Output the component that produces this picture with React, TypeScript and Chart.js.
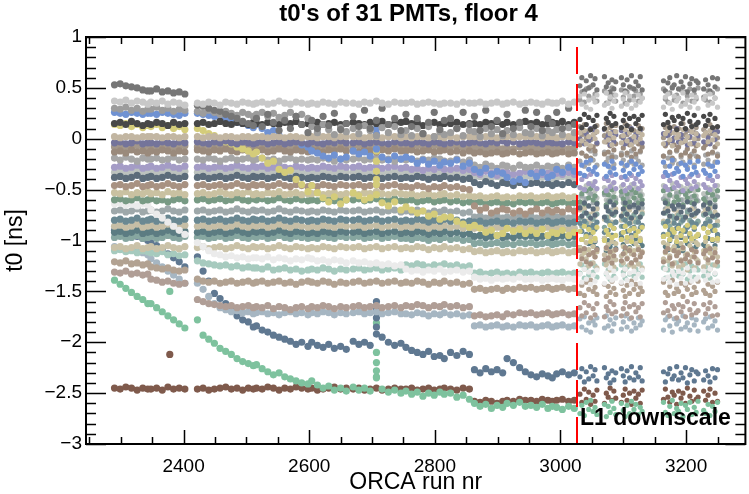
import { useEffect, useRef } from "react";
import { Chart, registerables } from "chart.js";

Chart.register(...registerables);

// ---- axis / annotation constants ----
const titleText = "t0's of 31 PMTs, floor 4";
const xTitle = "ORCA run nr";
const yTitle = "t0 [ns]";
const l1Label = "L1 downscale";
const l1Run = 3027;
const xMin = 2244.6;
const xMax = 3294.4;
const yMin = -3;
const yMax = 1;
const xMajorTicks = [2400, 2600, 2800, 3000, 3200];
const xTickLabels = ["2400", "2600", "2800", "3000", "3200"];
const yMajorTicks = [1, 0.5, 0, -0.5, -1, -1.5, -2, -2.5, -3];
const yTickLabels = ["1", "0.5", "0", "\u22120.5", "\u22121", "\u22121.5", "\u22122", "\u22122.5", "\u22123"];

// ---- run numbers, grouped by data-taking period ----
const runClusters: number[][] = [
  [2290, 2299, 2308, 2317, 2326, 2335, 2343],
  [2348, 2357, 2366, 2375, 2384, 2393, 2402],
  [2422, 2431, 2440, 2449, 2458, 2467, 2476, 2485, 2494, 2503, 2511],
  [2516, 2525, 2534, 2543, 2552, 2561, 2570, 2579, 2588, 2598],
  [2604, 2613, 2622, 2631, 2640, 2650, 2659],
  [2670, 2679, 2688, 2697, 2707, 2716, 2726, 2736, 2746],
  [2754, 2763, 2772, 2781, 2790, 2799, 2808, 2815],
  [2825, 2835, 2845, 2855],
  [2863, 2872, 2881, 2890, 2899, 2908],
  [2915, 2925, 2935, 2944],
  [2953, 2962, 2971, 2980, 2987],
  [2994, 3003, 3013, 3022],
  [3031, 3034, 3038, 3041, 3045, 3048, 3052, 3055, 3058],
  [3070, 3073, 3076, 3079, 3082, 3085, 3088],
  [3097, 3100, 3103, 3106, 3110, 3113, 3117, 3120, 3124, 3127, 3130],
  [3164, 3167, 3171, 3174, 3178, 3181, 3185, 3188, 3192, 3195, 3199, 3202, 3206, 3209, 3213, 3216, 3219],
  [3228, 3231, 3235, 3238, 3242, 3246, 3250],
];

// ---- t0 values [ns] per PMT, same grouping as runClusters ----
const pmt01 = [
  [.37,.36,.38,.35,.37,.36,.34],[.36,.35,.37,.34,.36,.35,.33],
  [.35,.34,.36,.35,.33,.36,.35,.34,.36,.35,.34],[.35,.36,.34,.35,.37,.35,.34,.36,.35,.34],
  [.35,.34,.36,.35,.34,.36,.35],[.35,.34,.36,.35,.37,.35,.34,.36,.35],
  [.35,.36,.34,.35,.36,.35,.34,.35],[.35,.34,.36,.35],[.35,.36,.34,.35,.36,.34],
  [.35,.36,.34,.35],[.36,.35,.34,.36,.35],[.35,.37,.34,.36],
  [.42,.34,.44,.31,.38,.29,.40,.36,.43],[.33,.45,.35,.41,.30,.37,.43],
  [.32,.39,.45,.34,.42,.30,.38,.33,.43,.36,.40],
  [.31,.41,.44,.35,.29,.42,.37,.40,.32,.45,.34,.38,.31,.43,.36,.41,.30],[.39,.42,.33,.44,.35,.40,.31],
];
const pmt02 = [
  [.53,.54,.52,.51,.50,.48,.47],[.47,.49,.46,.47,.45,.46,.44],
  [.33,.32,.30,.28,.27,.24,.22,.20,.17,.15,.13],[.20,.12,.24,.16,.08,.18,.10,.22,.14,.06],
  [.18,.10,.22,.13,.25,.09,.15],[.22,.12,.28,.10,.18,.30,.14,.20,.08],
  [.24,.12,.20,.05,.16,.26,.09,.18],[.20,.10,.26,.14],[.22,.08,.28,.12,.18,.05],
  [.24,.10,.16,.28],[.12,.26,.08,.20,.15],[.26,.10,.30,.14],
  [.52,.60,.47,.57,.50,.62,.53,.59,.48],[.61,.51,.55,.46,.58,.49,.56],
  [.60,.53,.47,.58,.51,.62,.49,.56,.52,.61,.48],
  [.57,.47,.55,.60,.50,.53,.62,.49,.56,.51,.61,.46,.54,.59,.48,.57,.55],[.49,.58,.53,.47,.60,.51,.59],
];
const pmt03 = [
  [.30,.29,.31,.28,.30,.27,.29],[.29,.31,.28,.30,.27,.29,.28],
  [.27,.25,.28,.26,.24,.27,.25,.23,.26,.24,.22],[.24,.26,.22,.25,.21,.23,.26,.22,.24,.20],
  [.12,.06,.14,.09,.04,.11,.07],[.10,.05,.13,.08,.03,.11,.06,.12,.04],
  [.08,.03,.10,.05,.12,.02,.07,.04],[.06,.10,.03,.08],[.07,.02,.10,.05,.09,.03],
  [.08,.04,.11,.06],[.05,.10,.03,.08,.06],[.09,.04,.11,.06],
  [.38,.46,.36,.49,.42,.51,.40,.44,.37],[.47,.35,.45,.39,.50,.43,.37],
  [.48,.41,.35,.46,.38,.50,.42,.47,.37,.44,.40],
  [.49,.39,.36,.45,.51,.38,.43,.40,.48,.35,.46,.42,.49,.37,.44,.39,.50],[.41,.38,.47,.36,.45,.40,.49],
];
const pmt04 = [
  [.15,.16,.14,.17,.15,.13,.15],[.14,.16,.15,.13,.16,.14,.15],
  [.15,.16,.14,.15,.17,.15,.14,.16,.15,.14,.16],[.15,.14,.16,.15,.14,.16,.15,.17,.14,.15],
  [.15,.16,.14,.15,.16,.14,.15],[.16,.15,.14,.16,.15,.17,.14,.15,.16],
  [.17,.15,.16,.13,.15,.16,.14,.15],[.15,.16,.14,.15],[.15,.14,.16,.15,.17,.14],
  [.16,.14,.15,.17],[.15,.16,.14,.15,.16],[.15,.17,.14,.16],
  [.19,.11,.24,.14,.21,.09,.18,.12,.23],[.10,.20,.16,.25,.13,.22,.15],
  [.11,.18,.24,.13,.20,.09,.22,.15,.19,.10,.23],
  [.14,.24,.16,.11,.21,.18,.09,.22,.15,.20,.10,.25,.17,.12,.23,.14,.16],[.22,.13,.18,.24,.11,.20,.12],
];
const pmt05 = [
  [.02,.01,.02,.02,.01,.02,.02],[.02,.02,.01,.02,.02,.01,.02],
  [.02,.01,.02,.02,.01,.02,.02,.01,.02,.02,.01],[.02,.02,.01,.02,.02,.01,.02,.02,.01,.02],
  [.02,.01,.02,.02,.01,.02,.02],[.02,.02,.01,.02,.02,.01,.02,.02,.01],
  [.02,.01,.02,.02,.01,.02,.02,.01],[.02,.01,.02,.02],[.02,.01,.02,.02,.01,.02],
  [.02,.01,.02,.02],[.02,.02,.01,.02,.02],[.01,.02,.02,.01],
  [.06,-.02,.08,-.05,.02,-.07,.04,.00,.07],[-.03,.09,-.01,.05,-.06,.01,.07],
  [-.04,.03,.09,-.02,.06,-.06,.02,-.03,.07,.00,.04],
  [-.05,.05,.08,-.01,-.07,.06,.01,.04,-.04,.09,-.02,.02,-.05,.07,.00,.05,-.06],[.03,.06,-.03,.08,-.01,.04,-.05],
];
const pmt06 = [
  [-.04,-.03,-.05,-.04,-.02,-.05,-.04],[-.04,-.05,-.03,-.04,-.05,-.03,-.04],
  [-.03,-.04,-.05,-.03,-.04,-.02,-.04,-.05,-.03,-.04,-.05],[-.04,-.03,-.05,-.04,-.03,-.05,-.04,-.03,-.04,-.05],
  [-.03,-.04,-.05,-.03,-.04,-.02,-.04],[-.04,-.03,-.05,-.04,-.03,-.04,-.05,-.03,-.04],
  [-.04,-.05,-.03,-.04,-.05,-.03,-.04,-.05],[-.04,-.03,-.05,-.04],[-.03,-.04,-.05,-.03,-.04,-.02],
  [-.04,-.03,-.05,-.04],[-.03,-.04,-.05,-.03,-.04],[-.04,-.05,-.03,-.04],
  [.00,.08,-.05,.05,-.02,.10,.01,.07,-.04],[.09,-.01,.03,-.06,.06,-.03,.04],
  [.08,.01,-.05,.06,-.01,.10,-.03,.04,.00,.09,-.04],
  [.05,-.05,.03,.08,-.02,.01,.10,-.03,.04,-.01,.09,-.06,.02,.07,-.04,.05,.03],[-.03,.06,.01,-.05,.08,-.01,.07],
];
const pmt07 = [
  [.26,.25,.24,.26,.25,.24,.25],[.25,.24,.26,.25,.24,.23,.25],
  [.25,.24,.23,.22,.21,.19,.18,.16,.15,.13,.11],[.14,.10,.06,.08,.03,.00,-.03,-.02,-.06,-.08],
  [-.12,-.14,-.17,-.19,-.16,-.20,-.18],[-.12,-.15,-.13,-.17,-.10,-.18,-.21,-.17,-.20],
  [-.18,-.20,-.24,-.21,-.25,-.22,-.26,-.23],[-.24,-.21,-.27,-.24],[-.30,-.33,-.29,-.35,-.32,-.34],
  [-.38,-.42,-.40,-.43],[-.34,-.37,-.33,-.38,-.36],[-.30,-.33,-.28,-.32],
  [-.34,-.26,-.36,-.23,-.30,-.21,-.32,-.28,-.35],[-.25,-.37,-.27,-.33,-.22,-.29,-.35],
  [-.24,-.31,-.37,-.26,-.34,-.22,-.30,-.25,-.35,-.28,-.32],
  [-.23,-.33,-.36,-.27,-.21,-.34,-.29,-.32,-.24,-.37,-.26,-.30,-.23,-.35,-.28,-.33,-.22],[-.31,-.34,-.25,-.36,-.27,-.32,-.23],
];
const pmt08 = [
  [.14,.13,.15,.12,.14,.11,.13],[.12,.14,.11,.13,.10,.12,.09],
  [.10,.08,.05,.03,.00,-.03,-.05,-.08,-.10,-.12,-.15],[-.13,-.19,-.24,-.22,-.30,-.33,-.31,-.40,-.45,-.52],
  [-.46,-.53,-.58,-.62,-.57,-.64,-.60],[-.53,-.56,-.60,-.58,-.40,-.63,-.66,-.62,-.70],
  [-.67,-.70,-.73,-.71,-.76,-.74,-.79,-.77],[-.77,-.81,-.84,-.87],[-.85,-.88,-.92,-.90,-.95,-.93],
  [-.88,-.91,-.89,-.93],[-.90,-.93,-.89,-.95,-.92],[-.93,-.90,-.95,-.92],
  [-.91,-.99,-.86,-.96,-.89,-1.01,-.92,-.98,-.87],[-1.00,-.90,-.94,-.85,-.97,-.88,-.95],
  [-.99,-.92,-.86,-.97,-.90,-1.01,-.88,-.95,-.91,-1.00,-.87],
  [-.96,-.86,-.94,-.99,-.89,-.92,-1.01,-.88,-.95,-.90,-1.00,-.85,-.93,-.98,-.87,-.96,-.94],[-.88,-.97,-.92,-.86,-.99,-.90,-.98],
];
const pmt09 = [
  [-.13,-.12,-.14,-.11,-.13,-.12,-.14],[-.12,-.13,-.11,-.12,-.14,-.12,-.13],
  [-.11,-.12,-.13,-.11,-.12,-.10,-.12,-.13,-.11,-.12,-.13],[-.12,-.11,-.13,-.12,-.10,-.12,-.13,-.11,-.12,-.13],
  [-.11,-.12,-.13,-.11,-.12,-.10,-.12],[-.12,-.13,-.11,-.12,-.13,-.11,-.12,-.10,-.12],
  [-.12,-.11,-.13,-.12,-.11,-.13,-.12,-.11],[-.13,-.12,-.14,-.12],[-.14,-.13,-.15,-.14,-.13,-.15],
  [-.14,-.13,-.15,-.14],[-.13,-.15,-.14,-.13,-.15],[-.14,-.13,-.15,-.14],
  [-.06,-.14,-.04,-.17,-.10,-.19,-.08,-.12,-.05],[-.15,-.03,-.13,-.07,-.18,-.11,-.05],
  [-.16,-.09,-.03,-.14,-.06,-.18,-.10,-.15,-.05,-.12,-.08],
  [-.17,-.07,-.04,-.13,-.19,-.06,-.11,-.08,-.16,-.03,-.14,-.10,-.17,-.05,-.12,-.07,-.18],[-.09,-.06,-.15,-.04,-.13,-.08,-.17],
];
const pmt10 = [
  [-.19,-.21,-.18,-.20,-.22,-.19,-.20],[-.20,-.19,-.21,-.20,-.18,-.21,-.20],
  [-.20,-.21,-.19,-.20,-.22,-.20,-.19,-.21,-.20,-.19,-.21],[-.20,-.19,-.21,-.20,-.22,-.20,-.19,-.21,-.20,-.21],
  [-.20,-.21,-.19,-.20,-.22,-.20,-.21],[-.20,-.19,-.21,-.20,-.19,-.21,-.20,-.22,-.20],
  [-.21,-.20,-.22,-.20,-.21,-.19,-.20,-.22],[-.22,-.20,-.23,-.21],[-.26,-.28,-.25,-.27,-.29,-.26],
  [-.27,-.29,-.26,-.28],[-.28,-.26,-.29,-.27,-.28],[-.27,-.29,-.26,-.28],
  [-.22,-.14,-.27,-.17,-.24,-.12,-.21,-.15,-.26],[-.13,-.23,-.19,-.28,-.16,-.25,-.18],
  [-.14,-.21,-.27,-.16,-.23,-.12,-.25,-.18,-.22,-.13,-.26],
  [-.17,-.27,-.19,-.14,-.24,-.21,-.12,-.25,-.18,-.23,-.13,-.28,-.20,-.15,-.26,-.17,-.19],[-.25,-.16,-.21,-.27,-.14,-.23,-.15],
];
const pmt11 = [
  [-.28,-.27,-.29,-.28,-.26,-.29,-.28],[-.27,-.29,-.28,-.26,-.28,-.29,-.27],
  [-.28,-.27,-.29,-.28,-.27,-.29,-.28,-.26,-.28,-.29,-.27],[-.28,-.27,-.29,-.28,-.26,-.28,-.29,-.27,-.28,-.29],
  [-.28,-.29,-.27,-.28,-.29,-.27,-.28],[-.28,-.27,-.29,-.28,-.27,-.29,-.28,-.27,-.29],
  [-.28,-.30,-.29,-.31,-.29,-.30,-.28,-.30],[-.30,-.29,-.31,-.30],[-.33,-.35,-.32,-.34,-.36,-.33],
  [-.33,-.35,-.34,-.32],[-.34,-.33,-.35,-.34,-.33],[-.34,-.35,-.33,-.35],
  [-.48,-.40,-.50,-.37,-.44,-.35,-.46,-.42,-.49],[-.39,-.51,-.41,-.47,-.36,-.43,-.49],
  [-.38,-.45,-.51,-.40,-.48,-.36,-.44,-.39,-.49,-.42,-.46],
  [-.37,-.47,-.50,-.41,-.35,-.48,-.43,-.46,-.38,-.51,-.40,-.44,-.37,-.49,-.42,-.47,-.36],[-.45,-.48,-.39,-.50,-.41,-.46,-.37],
];
const pmt12 = [
  [-.38,-.37,-.39,-.38,-.36,-.39,-.38],[-.37,-.39,-.38,-.36,-.38,-.39,-.37],
  [-.38,-.37,-.39,-.38,-.37,-.39,-.38,-.36,-.38,-.39,-.37],[-.38,-.37,-.39,-.38,-.36,-.38,-.39,-.37,-.38,-.39],
  [-.38,-.39,-.37,-.38,-.39,-.37,-.38],[-.38,-.37,-.39,-.38,-.37,-.39,-.38,-.37,-.39],
  [-.38,-.39,-.37,-.38,-.40,-.38,-.39,-.37],[-.39,-.38,-.40,-.39],[-.43,-.45,-.42,-.44,-.46,-.43],
  [-.44,-.46,-.43,-.45],[-.44,-.43,-.45,-.44,-.46],[-.44,-.45,-.43,-.45],
  [-.68,-.76,-.63,-.73,-.66,-.78,-.69,-.75,-.64],[-.77,-.67,-.71,-.62,-.74,-.65,-.72],
  [-.76,-.69,-.63,-.74,-.67,-.78,-.65,-.72,-.68,-.77,-.64],
  [-.73,-.63,-.71,-.76,-.66,-.69,-.78,-.65,-.72,-.67,-.77,-.62,-.70,-.75,-.64,-.73,-.71],[-.65,-.74,-.69,-.63,-.76,-.67,-.75],
];
const pmt13 = [
  [-.46,-.45,-.47,-.46,-.44,-.47,-.46],[-.45,-.47,-.46,-.44,-.46,-.47,-.45],
  [-.46,-.45,-.47,-.46,-.45,-.47,-.46,-.44,-.46,-.47,-.45],[-.46,-.45,-.47,-.46,-.44,-.46,-.47,-.45,-.46,-.47],
  [-.46,-.47,-.45,-.46,-.47,-.45,-.46],[-.46,-.45,-.47,-.46,-.45,-.47,-.46,-.45,-.47],
  [-.47,-.48,-.46,-.47,-.49,-.47,-.48,-.46],[-.48,-.47,-.49,-.50],[-.66,-.70,-.68,-.73,-.71,-.69],
  [-.70,-.73,-.71,-.74],[-.71,-.69,-.73,-.70,-.72],[-.70,-.72,-.69,-.71],
  [-1.10,-1.18,-1.08,-1.21,-1.14,-1.23,-1.12,-1.16,-1.09],[-1.19,-1.07,-1.17,-1.11,-1.22,-1.15,-1.09],
  [-1.20,-1.13,-1.07,-1.18,-1.10,-1.22,-1.14,-1.19,-1.09,-1.16,-1.12],
  [-1.21,-1.11,-1.08,-1.17,-1.23,-1.10,-1.15,-1.12,-1.20,-1.07,-1.18,-1.14,-1.21,-1.09,-1.16,-1.11,-1.22],[-1.13,-1.10,-1.19,-1.08,-1.17,-1.12,-1.21],
];
const pmt14 = [
  [-.53,-.54,-.52,-.55,-.53,-.54,-.52],[-.54,-.53,-.55,-.52,-.54,-.53,-.55],
  [-.54,-.53,-.55,-.54,-.52,-.54,-.55,-.53,-.54,-.52,-.55],[-.54,-.55,-.53,-.54,-.52,-.55,-.54,-.53,-.55,-.54],
  [-.54,-.53,-.55,-.54,-.53,-.55,-.54],[-.54,-.55,-.53,-.54,-.52,-.54,-.55,-.53,-.54],
  [-.55,-.54,-.56,-.55,-.54,-.56,-.55,-.54],[-.56,-.55,-.57,-.56],[-.57,-.56,-.58,-.57,-.56,-.58],
  [-.57,-.58,-.56,-.57],[-.56,-.58,-.57,-.56,-.58],[-.57,-.56,-.58,-.57],
  [-1.07,-.99,-1.12,-1.02,-1.09,-.97,-1.06,-1.00,-1.11],[-.98,-1.08,-1.04,-1.13,-1.01,-1.10,-1.03],
  [-.99,-1.06,-1.12,-1.01,-1.08,-.97,-1.10,-1.03,-1.07,-.98,-1.11],
  [-1.02,-1.12,-1.04,-.99,-1.09,-1.06,-.97,-1.10,-1.03,-1.08,-.98,-1.13,-1.05,-1.00,-1.11,-1.02,-1.04],[-1.10,-1.01,-1.06,-1.12,-.99,-1.08,-1.00],
];
const pmt15 = [
  [-.60,-.59,-.61,-.60,-.58,-.61,-.60],[-.59,-.61,-.60,-.62,-.60,-.59,-.61],
  [-.60,-.59,-.61,-.60,-.59,-.61,-.60,-.58,-.60,-.61,-.59],[-.60,-.59,-.61,-.60,-.58,-.60,-.61,-.59,-.60,-.61],
  [-.60,-.61,-.59,-.60,-.61,-.59,-.60],[-.60,-.59,-.61,-.60,-.59,-.61,-.60,-.59,-.61],
  [-.61,-.60,-.62,-.61,-.60,-.62,-.61,-.60],[-.62,-.61,-.63,-.62],[-.63,-.62,-.64,-.63,-.62,-.64],
  [-.63,-.64,-.62,-.63],[-.62,-.64,-.63,-.62,-.64],[-.63,-.62,-.64,-.63],
  [-.62,-.54,-.64,-.51,-.58,-.49,-.60,-.56,-.63],[-.53,-.65,-.55,-.61,-.50,-.57,-.63],
  [-.52,-.59,-.65,-.54,-.62,-.50,-.58,-.53,-.63,-.56,-.60],
  [-.51,-.61,-.64,-.55,-.49,-.62,-.57,-.60,-.52,-.65,-.54,-.58,-.51,-.63,-.56,-.61,-.50],[-.59,-.62,-.53,-.64,-.55,-.60,-.51],
];
const pmt16 = [
  [-.64,-.63,-.65,-.64,-.66,-.64,-.65],[-.70,-.74,-.78,-.82,-.86,-.90,-.94],
  [-1.02,-1.06,-1.10,-1.13,-1.14,-1.16,-1.15,-1.17,-1.16,-1.18,-1.17],[-1.17,-1.18,-1.16,-1.19,-1.17,-1.18,-1.20,-1.18,-1.19,-1.17],
  [-1.18,-1.20,-1.19,-1.21,-1.19,-1.20,-1.22],[-1.20,-1.22,-1.21,-1.23,-1.22,-1.24,-1.23,-1.25,-1.24],
  [-1.28,-1.30,-1.29,-1.31,-1.29,-1.30,-1.28,-1.31],[-1.30,-1.29,-1.31,-1.30],[-1.36,-1.38,-1.37,-1.39,-1.37,-1.38],
  [-1.37,-1.38,-1.36,-1.38],[-1.38,-1.37,-1.39,-1.38,-1.37],[-1.38,-1.39,-1.37,-1.38],
  [-1.33,-1.41,-1.28,-1.38,-1.31,-1.43,-1.34,-1.40,-1.29],[-1.42,-1.32,-1.36,-1.27,-1.39,-1.30,-1.37],
  [-1.41,-1.34,-1.28,-1.39,-1.32,-1.43,-1.30,-1.37,-1.33,-1.42,-1.29],
  [-1.38,-1.28,-1.36,-1.41,-1.31,-1.34,-1.43,-1.30,-1.37,-1.32,-1.42,-1.27,-1.35,-1.40,-1.29,-1.38,-1.36],[-1.30,-1.39,-1.34,-1.28,-1.41,-1.32,-1.40],
];
const pmt17 = [
  [-.80,-.79,-.81,-.80,-.78,-.81,-.80],[-.79,-.81,-.80,-.78,-.80,-.81,-.79],
  [-.80,-.79,-.81,-.80,-.79,-.81,-.80,-.78,-.80,-.81,-.79],[-.80,-.79,-.81,-.80,-.78,-.80,-.81,-.79,-.80,-.81],
  [-.80,-.81,-.79,-.80,-.81,-.79,-.80],[-.80,-.79,-.81,-.80,-.79,-.81,-.80,-.79,-.81],
  [-.80,-.81,-.79,-.80,-.82,-.80,-.81,-.79],[-.81,-.80,-.82,-.81],[-.82,-.81,-.83,-.82,-.81,-.83],
  [-.82,-.83,-.81,-.82],[-.81,-.83,-.82,-.81,-.83],[-.82,-.81,-.83,-.82],
  [-.83,-.91,-.81,-.94,-.87,-.96,-.85,-.89,-.82],[-.92,-.80,-.90,-.84,-.95,-.88,-.82],
  [-.93,-.86,-.80,-.91,-.83,-.95,-.87,-.92,-.82,-.89,-.85],
  [-.94,-.84,-.81,-.90,-.96,-.83,-.88,-.85,-.93,-.80,-.91,-.87,-.94,-.82,-.89,-.84,-.95],[-.86,-.83,-.92,-.81,-.90,-.85,-.94],
];
const pmt18 = [
  [-.86,-.85,-.87,-.86,-.84,-.87,-.86],[-.85,-.87,-.86,-.84,-.86,-.87,-.85],
  [-.86,-.85,-.87,-.86,-.85,-.87,-.86,-.84,-.86,-.87,-.85],[-.86,-.85,-.87,-.86,-.84,-.86,-.87,-.85,-.86,-.87],
  [-.86,-.87,-.85,-.86,-.87,-.85,-.86],[-.86,-.85,-.87,-.86,-.85,-.87,-.86,-.85,-.87],
  [-.86,-.87,-.85,-.86,-.88,-.86,-.87,-.85],[-.87,-.86,-.88,-.87],[-.88,-.87,-.89,-.88,-.87,-.89],
  [-.88,-.89,-.87,-.88],[-.87,-.89,-.88,-.87,-.89],[-.88,-.87,-.89,-.88],
  [-1.23,-1.15,-1.28,-1.18,-1.25,-1.13,-1.22,-1.16,-1.27],[-1.14,-1.24,-1.20,-1.29,-1.17,-1.26,-1.19],
  [-1.15,-1.22,-1.28,-1.17,-1.24,-1.13,-1.26,-1.19,-1.23,-1.14,-1.27],
  [-1.18,-1.28,-1.20,-1.15,-1.25,-1.22,-1.13,-1.26,-1.19,-1.24,-1.14,-1.29,-1.21,-1.16,-1.27,-1.18,-1.20],[-1.26,-1.17,-1.22,-1.28,-1.15,-1.24,-1.16],
];
const pmt19 = [
  [-.92,-.91,-.93,-.92,-.90,-.93,-.92],[-.91,-.93,-.92,-.90,-.92,-.93,-.91],
  [-.92,-.91,-.93,-.92,-.91,-.93,-.92,-.90,-.92,-.93,-.91],[-.92,-.91,-.93,-.92,-.90,-.92,-.93,-.91,-.92,-.93],
  [-.92,-.93,-.91,-.92,-.93,-.91,-.92],[-.92,-.91,-.93,-.92,-.91,-.93,-.92,-.91,-.93],
  [-.92,-.93,-.91,-.92,-.94,-.92,-.93,-.91],[-.93,-.92,-.94,-.93],[-.96,-.95,-.97,-.96,-.95,-.97],
  [-.96,-.97,-.95,-.96],[-.95,-.97,-.96,-.95,-.97],[-.96,-.95,-.97,-.96],
  [-1.07,-.99,-1.09,-.96,-1.03,-.94,-1.05,-1.01,-1.08],[-.98,-1.10,-1.00,-1.06,-.95,-1.02,-1.08],
  [-.97,-1.04,-1.10,-.99,-1.07,-.95,-1.03,-.98,-1.08,-1.01,-1.05],
  [-.96,-1.06,-1.09,-1.00,-.94,-1.07,-1.02,-1.05,-.97,-1.10,-.99,-1.03,-.96,-1.08,-1.01,-1.06,-.95],[-1.04,-1.07,-.98,-1.09,-1.00,-1.05,-.96],
];
const pmt20 = [
  [-.97,-.96,-.98,-.97,-.95,-.98,-.97],[-.96,-.98,-.97,-.95,-.97,-.98,-.96],
  [-.97,-.96,-.98,-.97,-.96,-.98,-.97,-.95,-.97,-.98,-.96],[-.97,-.96,-.98,-.97,-.95,-.97,-.98,-.96,-.97,-.98],
  [-.97,-.98,-.96,-.97,-.98,-.96,-.97],[-.97,-.96,-.98,-.97,-.96,-.98,-.97,-.96,-.98],
  [-.98,-.99,-.97,-.98,-1.00,-.98,-.99,-.97],[-.99,-.98,-1.00,-.99],[-1.03,-1.02,-1.04,-1.03,-1.02,-1.04],
  [-1.03,-1.04,-1.02,-1.03],[-1.02,-1.04,-1.03,-1.02,-1.04],[-1.03,-1.02,-1.04,-1.03],
  [-.78,-.86,-.73,-.83,-.76,-.88,-.79,-.85,-.74],[-.87,-.77,-.81,-.72,-.84,-.75,-.82],
  [-.86,-.79,-.73,-.84,-.77,-.88,-.75,-.82,-.78,-.87,-.74],
  [-.83,-.73,-.81,-.86,-.76,-.79,-.88,-.75,-.82,-.77,-.87,-.72,-.80,-.85,-.74,-.83,-.81],[-.75,-.84,-.79,-.73,-.86,-.77,-.85],
];
const pmt21 = [
  [-1.07,-1.06,-1.08,-1.07,-1.05,-1.08,-1.07],[-1.06,-1.08,-1.07,-1.05,-1.07,-1.08,-1.06],
  [-1.07,-1.06,-1.08,-1.07,-1.06,-1.08,-1.07,-1.05,-1.07,-1.08,-1.06],[-1.07,-1.06,-1.08,-1.07,-1.05,-1.07,-1.08,-1.06,-1.07,-1.08],
  [-1.07,-1.08,-1.06,-1.07,-1.08,-1.06,-1.07],[-1.07,-1.06,-1.08,-1.07,-1.06,-1.08,-1.07,-1.06,-1.08],
  [-1.07,-1.08,-1.06,-1.07,-1.09,-1.07,-1.08,-1.06],[-1.08,-1.07,-1.09,-1.08],[-1.11,-1.10,-1.12,-1.11,-1.10,-1.12],
  [-1.11,-1.12,-1.10,-1.11],[-1.10,-1.12,-1.11,-1.10,-1.12],[-1.11,-1.10,-1.12,-1.11],
  [-.70,-.78,-.68,-.81,-.74,-.83,-.72,-.76,-.69],[-.79,-.67,-.77,-.71,-.82,-.75,-.69],
  [-.80,-.73,-.67,-.78,-.70,-.82,-.74,-.79,-.69,-.76,-.72],
  [-.81,-.71,-.68,-.77,-.83,-.70,-.75,-.72,-.80,-.67,-.78,-.74,-.81,-.69,-.76,-.71,-.82],[-.73,-.70,-.79,-.68,-.77,-.72,-.81],
];
const pmt22 = [
  [-1.10,-1.09,-1.11,-1.10,-1.12,-1.10,-1.11],[-1.12,-1.13,-1.11,-1.14,-1.13,-1.15,-1.14],
  [-1.20,-1.22,-1.23,-1.24,-1.25,-1.24,-1.26,-1.25,-1.27,-1.26,-1.27],[-1.27,-1.28,-1.26,-1.29,-1.28,-1.27,-1.29,-1.28,-1.30,-1.29],
  [-1.28,-1.29,-1.27,-1.28,-1.30,-1.28,-1.29],[-1.28,-1.27,-1.29,-1.28,-1.27,-1.29,-1.28,-1.27,-1.29],
  [-1.24,-1.25,-1.23,-1.24,-1.26,-1.24,-1.25,-1.23],[-1.25,-1.24,-1.26,-1.25],[-1.32,-1.31,-1.33,-1.32,-1.31,-1.33],
  [-1.32,-1.33,-1.31,-1.32],[-1.31,-1.33,-1.32,-1.31,-1.33],[-1.32,-1.31,-1.33,-1.32],
  [-1.32,-1.24,-1.37,-1.27,-1.34,-1.22,-1.31,-1.25,-1.36],[-1.23,-1.33,-1.29,-1.38,-1.26,-1.35,-1.28],
  [-1.24,-1.31,-1.37,-1.26,-1.33,-1.22,-1.35,-1.28,-1.32,-1.23,-1.36],
  [-1.27,-1.37,-1.29,-1.24,-1.34,-1.31,-1.22,-1.35,-1.28,-1.33,-1.23,-1.38,-1.30,-1.25,-1.36,-1.27,-1.29],[-1.35,-1.26,-1.31,-1.37,-1.24,-1.33,-1.25],
];
const pmt23 = [
  [-1.21,-1.22,-1.20,-1.23,-1.22,-1.24,-1.23],[-1.26,-1.27,-1.28,-1.27,-1.29,-1.30,-1.29],
  [-1.38,-1.40,-1.41,-1.40,-1.42,-1.41,-1.40,-1.42,-1.41,-1.40,-1.42],[-1.41,-1.40,-1.42,-1.41,-1.40,-1.42,-1.41,-1.43,-1.41,-1.40],
  [-1.41,-1.42,-1.40,-1.41,-1.43,-1.41,-1.42],[-1.41,-1.40,-1.42,-1.41,-1.40,-1.42,-1.41,-1.40,-1.42],
  [-1.41,-1.42,-1.40,-1.41,-1.43,-1.41,-1.42,-1.40],[-1.42,-1.41,-1.43,-1.42],[-1.48,-1.47,-1.49,-1.48,-1.47,-1.49],
  [-1.47,-1.48,-1.46,-1.47],[-1.46,-1.48,-1.47,-1.46,-1.48],[-1.47,-1.46,-1.48,-1.47],
  [-1.52,-1.44,-1.54,-1.41,-1.48,-1.39,-1.50,-1.46,-1.53],[-1.43,-1.55,-1.45,-1.51,-1.40,-1.47,-1.53],
  [-1.42,-1.49,-1.55,-1.44,-1.52,-1.40,-1.48,-1.43,-1.53,-1.46,-1.50],
  [-1.41,-1.51,-1.54,-1.45,-1.39,-1.52,-1.47,-1.50,-1.42,-1.55,-1.44,-1.48,-1.41,-1.53,-1.46,-1.51,-1.40],[-1.49,-1.52,-1.43,-1.54,-1.45,-1.50,-1.41],
];
const pmt24 = [
  [-1.31,-1.32,-1.30,-1.33,-1.32,-1.34,-1.33],[-1.38,-1.39,-1.41,-1.40,-1.42,-1.43,-1.42],
  [-1.58,-1.60,-1.62,-1.63,-1.64,-1.65,-1.64,-1.66,-1.65,-1.64,-1.66],[-1.65,-1.66,-1.64,-1.67,-1.65,-1.66,-1.68,-1.66,-1.65,-1.67],
  [-1.65,-1.66,-1.64,-1.65,-1.67,-1.65,-1.66],[-1.65,-1.64,-1.66,-1.65,-1.64,-1.66,-1.65,-1.64,-1.66],
  [-1.64,-1.65,-1.63,-1.64,-1.66,-1.64,-1.65,-1.63],[-1.65,-1.64,-1.66,-1.65],[-1.74,-1.73,-1.75,-1.74,-1.73,-1.75],
  [-1.72,-1.73,-1.71,-1.72],[-1.71,-1.73,-1.72,-1.71,-1.73],[-1.72,-1.71,-1.73,-1.72],
  [-1.66,-1.74,-1.61,-1.71,-1.64,-1.76,-1.67,-1.73,-1.62],[-1.75,-1.65,-1.69,-1.60,-1.72,-1.63,-1.70],
  [-1.74,-1.67,-1.61,-1.72,-1.65,-1.76,-1.63,-1.70,-1.66,-1.75,-1.62],
  [-1.71,-1.61,-1.69,-1.74,-1.64,-1.67,-1.76,-1.63,-1.70,-1.65,-1.75,-1.60,-1.68,-1.73,-1.62,-1.71,-1.69],[-1.63,-1.72,-1.67,-1.61,-1.74,-1.65,-1.73],
];
const pmt25 = [
  [-1.06,-1.07,-1.09,-1.08,-1.11,-1.12,-1.14],[-1.18,-1.22,-1.26,-1.30,-1.34,-1.38,-1.42],
  [-1.42,-1.48,-1.55,-1.62,-1.66,-1.68,-1.70,-1.69,-1.71,-1.70,-1.72],[-1.71,-1.70,-1.72,-1.71,-1.73,-1.71,-1.70,-1.72,-1.71,-1.73],
  [-1.71,-1.72,-1.70,-1.71,-1.73,-1.71,-1.72],[-1.71,-1.70,-1.72,-1.71,-1.70,-1.72,-1.71,-1.70,-1.72],
  [-1.72,-1.73,-1.71,-1.72,-1.74,-1.72,-1.73,-1.71],[-1.73,-1.72,-1.74,-1.73],[-1.84,-1.83,-1.85,-1.84,-1.83,-1.85],
  [-1.84,-1.85,-1.83,-1.84],[-1.83,-1.85,-1.84,-1.83,-1.85],[-1.84,-1.83,-1.85,-1.84],
  [-1.77,-1.85,-1.75,-1.88,-1.81,-1.90,-1.79,-1.83,-1.76],[-1.86,-1.74,-1.84,-1.78,-1.89,-1.82,-1.76],
  [-1.87,-1.80,-1.74,-1.85,-1.77,-1.89,-1.81,-1.86,-1.76,-1.83,-1.79],
  [-1.88,-1.78,-1.75,-1.84,-1.90,-1.77,-1.82,-1.79,-1.87,-1.74,-1.85,-1.81,-1.88,-1.76,-1.83,-1.78,-1.89],[-1.80,-1.77,-1.86,-1.75,-1.84,-1.79,-1.88],
];
const pmt26 = [
  [-.90,-.92,-.93,-.95,-.96,-.98,-1.00],[-1.02,-1.05,-1.09,-1.13,-1.17,-1.21,-1.26],
  [-1.16,-1.30,-1.40,-1.52,-1.57,-1.62,-1.68,-1.74,-1.78,-1.80,-1.85],[-1.84,-1.88,-1.90,-1.93,-1.95,-1.97,-1.99,-2.02,-2.00,-2.04],
  [-2.00,-2.03,-2.05,-2.02,-2.06,-2.04,-2.07],[-1.99,-2.02,-2.00,-2.03,-1.70,-1.95,-2.00,-2.03,-2.01],
  [-2.05,-2.08,-2.10,-2.12,-2.09,-2.14,-2.13,-2.16],[-2.10,-2.13,-2.09,-2.12],[-2.27,-2.30,-2.26,-2.29,-2.27,-2.30],
  [-2.16,-2.20,-2.25,-2.29],[-2.32,-2.34,-2.31,-2.33,-2.35],[-2.31,-2.29,-2.32,-2.30],
  [-2.34,-2.26,-2.39,-2.29,-2.36,-2.24,-2.33,-2.27,-2.38],[-2.25,-2.35,-2.31,-2.40,-2.28,-2.37,-2.30],
  [-2.26,-2.33,-2.39,-2.28,-2.35,-2.24,-2.37,-2.30,-2.34,-2.25,-2.38],
  [-2.29,-2.39,-2.31,-2.26,-2.36,-2.33,-2.24,-2.37,-2.30,-2.35,-2.25,-2.40,-2.32,-2.27,-2.38,-2.29,-2.31],[-2.37,-2.28,-2.33,-2.39,-2.26,-2.35,-2.27],
];
const pmt27 = [
  [-1.39,-1.43,-1.47,-1.51,-1.55,-1.58,-1.62],[-1.62,-1.66,-1.70,-1.74,-1.78,-1.82,-1.86],
  [-1.78,-1.93,-1.97,-2.01,-2.06,-2.09,-2.12,-2.16,-2.19,-2.21,-2.23],[-2.22,-2.26,-2.29,-2.32,-2.30,-2.34,-2.36,-2.38,-2.40,-2.41],
  [-2.38,-2.42,-2.45,-2.43,-2.47,-2.45,-2.48],[-2.44,-2.47,-2.45,-2.48,-2.34,-2.46,-2.49,-2.47,-2.50],
  [-2.48,-2.51,-2.49,-2.53,-2.50,-2.52,-2.49,-2.51],[-2.50,-2.54,-2.52,-2.56],[-2.60,-2.63,-2.61,-2.65,-2.62,-2.64],
  [-2.60,-2.62,-2.59,-2.63],[-2.62,-2.64,-2.61,-2.65,-2.63],[-2.64,-2.66,-2.63,-2.65],
  [-2.70,-2.62,-2.72,-2.59,-2.66,-2.57,-2.68,-2.64,-2.71],[-2.61,-2.73,-2.63,-2.69,-2.58,-2.65,-2.71],
  [-2.60,-2.67,-2.73,-2.62,-2.70,-2.58,-2.66,-2.61,-2.71,-2.64,-2.68],
  [-2.59,-2.69,-2.72,-2.63,-2.57,-2.70,-2.65,-2.68,-2.60,-2.73,-2.62,-2.66,-2.59,-2.71,-2.64,-2.69,-2.58],[-2.67,-2.70,-2.61,-2.72,-2.63,-2.68,-2.59],
];
const pmt28 = [
  [-2.45,-2.46,-2.44,-2.45,-2.47,-2.45,-2.46],[-2.46,-2.45,-2.47,-2.44,-2.46,-2.45,-2.46],
  [-2.46,-2.45,-2.47,-2.46,-2.45,-2.44,-2.46,-2.45,-2.47,-2.45,-2.46],[-2.45,-2.46,-2.44,-2.45,-2.47,-2.45,-2.46,-2.44,-2.45,-2.46],
  [-2.45,-2.47,-2.46,-2.45,-2.44,-2.46,-2.45],[-2.46,-2.45,-2.47,-2.46,-2.45,-2.47,-2.46,-2.45,-2.46],
  [-2.46,-2.45,-2.47,-2.46,-2.45,-2.47,-2.46,-2.45],[-2.46,-2.47,-2.45,-2.46],[-2.58,-2.59,-2.57,-2.58,-2.60,-2.58],
  [-2.57,-2.58,-2.56,-2.57],[-2.57,-2.58,-2.56,-2.57,-2.58],[-2.57,-2.56,-2.58,-2.57],
  [-2.51,-2.59,-2.46,-2.56,-2.49,-2.61,-2.52,-2.58,-2.47],[-2.60,-2.50,-2.54,-2.45,-2.57,-2.48,-2.55],
  [-2.59,-2.52,-2.46,-2.57,-2.50,-2.61,-2.48,-2.55,-2.51,-2.60,-2.47],
  [-2.56,-2.46,-2.54,-2.59,-2.49,-2.52,-2.61,-2.48,-2.55,-2.50,-2.60,-2.45,-2.53,-2.58,-2.47,-2.56,-2.54],[-2.48,-2.57,-2.52,-2.46,-2.59,-2.50,-2.58],
];
const pmt29 = [
  [-.08,-.07,-.09,-.08,-.07,-.09,-.08],[-.07,-.09,-.08,-.07,-.08,-.09,-.07],
  [-.08,-.07,-.09,-.08,-.07,-.09,-.08,-.07,-.08,-.09,-.07],[-.08,-.07,-.09,-.08,-.07,-.08,-.09,-.07,-.08,-.09],
  [-.08,-.09,-.07,-.08,-.09,-.07,-.08],[-.08,-.07,-.09,-.08,-.07,-.09,-.08,-.07,-.09],
  [-.08,-.09,-.07,-.08,-.09,-.07,-.08,-.09],[-.08,-.07,-.09,-.08],[-.09,-.08,-.10,-.09,-.08,-.10],
  [-.09,-.10,-.08,-.09],[-.08,-.10,-.09,-.08,-.10],[-.09,-.08,-.10,-.09],
  [.12,.04,.14,.01,.08,-.01,.10,.06,.13],[.03,.15,.05,.11,.00,.07,.13],
  [.02,.09,.15,.04,.12,.00,.08,.03,.13,.06,.10],
  [.01,.11,.14,.05,-.01,.12,.07,.10,.02,.15,.04,.08,.01,.13,.06,.11,.00],[.09,.12,.03,.14,.05,.10,.01],
];
const pmt30 = [
  [-.71,-.70,-.72,-.71,-.69,-.72,-.71],[-.70,-.72,-.71,-.69,-.71,-.72,-.70],
  [-.71,-.70,-.72,-.71,-.70,-.72,-.71,-.69,-.71,-.72,-.70],[-.71,-.70,-.72,-.71,-.69,-.71,-.72,-.70,-.71,-.72],
  [-.71,-.72,-.70,-.71,-.72,-.70,-.71],[-.71,-.70,-.72,-.71,-.70,-.72,-.71,-.70,-.72],
  [-.71,-.72,-.70,-.71,-.73,-.71,-.72,-.70],[-.72,-.71,-.73,-.72],[-.77,-.76,-.78,-.77,-.76,-.78],
  [-.77,-.78,-.76,-.77],[-.76,-.78,-.77,-.76,-.78],[-.77,-.76,-.78,-.77],
  [-.64,-.56,-.69,-.59,-.66,-.54,-.63,-.57,-.68],[-.55,-.65,-.61,-.70,-.58,-.67,-.60],
  [-.56,-.63,-.69,-.58,-.65,-.54,-.67,-.60,-.64,-.55,-.68],
  [-.59,-.69,-.61,-.56,-.66,-.63,-.54,-.67,-.60,-.65,-.55,-.70,-.62,-.57,-.68,-.59,-.61],[-.67,-.58,-.63,-.69,-.56,-.65,-.57],
];
const pmt31 = [
  [-.33,-.32,-.34,-.33,-.31,-.34,-.33],[-.32,-.34,-.33,-.31,-.33,-.34,-.32],
  [-.33,-.32,-.34,-.33,-.32,-.34,-.33,-.31,-.33,-.34,-.32],[-.33,-.32,-.34,-.33,-.31,-.33,-.34,-.32,-.33,-.34],
  [-.33,-.34,-.32,-.33,-.34,-.32,-.33],[-.33,-.32,-.34,-.33,-.32,-.34,-.33,-.32,-.34],
  [-.33,-.34,-.32,-.33,-.35,-.33,-.34,-.32],[-.34,-.33,-.35,-.34],[-.38,-.37,-.39,-.38,-.37,-.39],
  [-.38,-.39,-.37,-.38],[-.37,-.39,-.38,-.37,-.39],[-.38,-.37,-.39,-.38],
  [-.57,-.49,-.59,-.46,-.53,-.44,-.55,-.51,-.58],[-.48,-.60,-.50,-.56,-.45,-.52,-.58],
  [-.47,-.54,-.60,-.49,-.57,-.45,-.53,-.48,-.58,-.51,-.55],
  [-.46,-.56,-.59,-.50,-.44,-.57,-.52,-.55,-.47,-.60,-.49,-.53,-.46,-.58,-.51,-.56,-.45],[-.54,-.57,-.48,-.59,-.50,-.55,-.46],
];

// extra points: a glitch run where several PMTs show a vertical streak, and two outliers
const spikeRun = 2707;
const spikeBlue = [0.16, 0.10, 0.05];
const spikeYellow = [-0.02, -0.12, -0.22, -0.32, -0.45, -0.55];
const spikeSteel = [-1.60, -1.68, -1.76, -1.85, -1.92];
const spikeGreen = [-1.81, -2.10, -2.20, -2.28, -2.35];
const outlierRun = 2378;
const outlierGreen = [-1.50];
const outlierBrown = [-2.12];

const pmtColors = [
  "#c8c8c8", "#767676", "#9c9c9c", "#484848", "#c2b6a2", "#74749a", "#7092d2", "#d4cc7a",
  "#9a8a7c", "#a6a6a6", "#a49cc6", "#5c6c7a", "#a89282", "#c9c1a1", "#789a84", "#ebebeb",
  "#6a8892", "#c6bea6", "#5c7c82", "#86a6a0", "#cac2a8", "#a6cabe", "#b2a292", "#b09e96",
  "#a6b6c2", "#5f7891", "#7ec29e", "#7f5a4c", "#a3978a", "#9ea8aa", "#bcc2be",
];

const allPmts = [
  pmt01, pmt02, pmt03, pmt04, pmt05, pmt06, pmt07, pmt08, pmt09, pmt10,
  pmt11, pmt12, pmt13, pmt14, pmt15, pmt16, pmt17, pmt18, pmt19, pmt20,
  pmt21, pmt22, pmt23, pmt24, pmt25, pmt26, pmt27, pmt28, pmt29, pmt30, pmt31,
];

const FONT = '"Liberation Sans", Arial, Helvetica, sans-serif';

function buildPoints(series: number[][]) {
  const pts: { x: number; y: number }[] = [];
  series.forEach((cl, ci) => {
    const rc = runClusters[ci] || [];
    cl.forEach((v, j) => {
      if (rc[j] !== undefined) pts.push({ x: rc[j], y: v });
    });
  });
  return pts;
}

const extraPoints: Record<number, { x: number; y: number }[]> = {
  6: spikeBlue.map((v) => ({ x: spikeRun, y: v })),
  7: spikeYellow.map((v) => ({ x: spikeRun, y: v })),
  25: spikeSteel.map((v) => ({ x: spikeRun, y: v })),
  26: [...spikeGreen.map((v) => ({ x: spikeRun, y: v })), ...outlierGreen.map((v) => ({ x: outlierRun, y: v }))],
  27: outlierBrown.map((v) => ({ x: outlierRun, y: v })),
};

const rootFrame = {
  id: "rootFrame",
  afterDatasetsDraw(chart: any) {
    const { ctx, chartArea, scales } = chart;
    const { left, right, top, bottom } = chartArea;
    const xs = scales.x;
    const ys = scales.y;
    ctx.save();

    // L1 downscale marker
    const xl = Math.round(xs.getPixelForValue(l1Run));
    ctx.strokeStyle = "#ff0000";
    ctx.lineWidth = 2;
    ctx.setLineDash([27, 10]);
    ctx.beginPath();
    ctx.moveTo(xl, bottom);
    ctx.lineTo(xl, top);
    ctx.stroke();
    ctx.setLineDash([]);

    // frame
    ctx.strokeStyle = "#000";
    ctx.lineWidth = 2;
    ctx.strokeRect(left, top, right - left, bottom - top);

    // x ticks
    ctx.lineWidth = 1.5;
    ctx.beginPath();
    for (let r = 2250; r <= 3290; r += 50) {
      const px = Math.round(xs.getPixelForValue(r)) + 0.5;
      const major = r % 200 === 0;
      const len = major ? 14 : 7;
      ctx.moveTo(px, bottom);
      ctx.lineTo(px, bottom - len);
      ctx.moveTo(px, top);
      ctx.lineTo(px, top + len);
    }
    // y ticks
    for (let k = -30; k <= 10; k++) {
      const v = k / 10;
      const py = Math.round(ys.getPixelForValue(v)) + 0.5;
      const major = k % 5 === 0;
      const len = major ? 20 : 10;
      ctx.moveTo(left, py);
      ctx.lineTo(left + len, py);
      ctx.moveTo(right, py);
      ctx.lineTo(right - len, py);
    }
    ctx.stroke();

    // tick labels
    ctx.fillStyle = "#000";
    ctx.font = `19px ${FONT}`;
    ctx.textAlign = "center";
    ctx.textBaseline = "middle";
    xMajorTicks.forEach((t, i) => {
      ctx.fillText(xTickLabels[i], xs.getPixelForValue(t), bottom + 23);
    });
    ctx.textAlign = "right";
    yMajorTicks.forEach((t, i) => {
      ctx.fillText(yTickLabels[i], left - 4, ys.getPixelForValue(t));
    });

    // axis titles
    ctx.font = `23px ${FONT}`;
    ctx.textAlign = "center";
    ctx.fillText(xTitle, (left + right) / 2, 483);
    ctx.save();
    ctx.translate(16, (top + bottom) / 2);
    ctx.rotate(-Math.PI / 2);
    ctx.fillText(yTitle, 0, 0);
    ctx.restore();

    // title
    ctx.font = `bold 24px ${FONT}`;
    ctx.textAlign = "center";
    ctx.textBaseline = "alphabetic";
    ctx.fillText(titleText, 408.5, 21);

    // annotation
    ctx.font = `bold 23px ${FONT}`;
    ctx.textAlign = "left";
    ctx.fillText(l1Label, xl + 3, 425);

    ctx.restore();
  },
};

export default function App() {
  const ref = useRef<HTMLCanvasElement>(null);
  useEffect(() => {
    if (!ref.current) return;
    const datasets = allPmts.map((s, i) => ({
      label: `PMT ${i + 1}`,
      data: [...buildPoints(s), ...(extraPoints[i] || [])],
      backgroundColor: pmtColors[i],
      borderWidth: 0,
      pointRadius: (c: any) => (c.raw && c.raw.x > l1Run ? 2.6 : 3.6),
      pointHoverRadius: 3.6,
      showLine: false,
    }));
    const chart = new Chart(ref.current, {
      type: "scatter",
      data: { datasets },
      options: {
        animation: false,
        responsive: false,
        devicePixelRatio: 1,
        events: [],
        layout: { padding: { left: 86, right: 1, top: 37, bottom: 50 } },
        scales: {
          x: { type: "linear", display: false, min: xMin, max: xMax },
          y: { type: "linear", display: false, min: yMin, max: yMax },
        },
        plugins: { legend: { display: false }, tooltip: { enabled: false }, title: { display: false } },
      },
      plugins: [rootFrame],
    } as any);
    return () => chart.destroy();
  }, []);
  return (
    <div style={{ position: "absolute", left: 0, top: 0, width: 749, height: 494, background: "#fff" }}>
      <canvas ref={ref} width={749} height={494} style={{ display: "block" }} />
    </div>
  );
}
